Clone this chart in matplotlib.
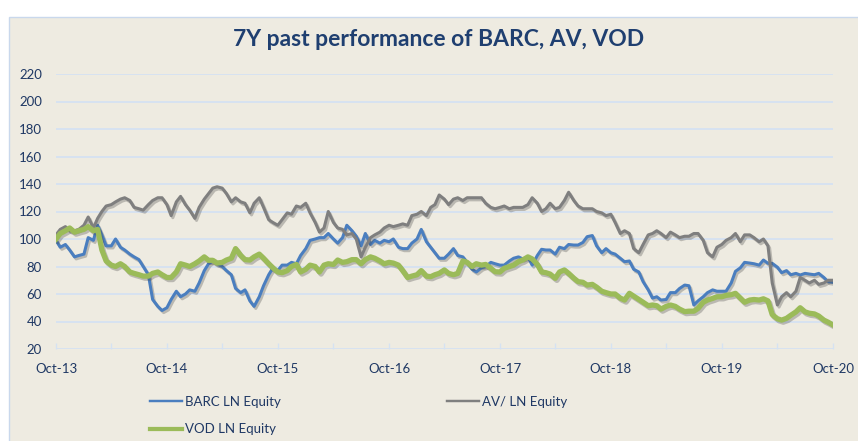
import matplotlib
matplotlib.use('Agg')
import matplotlib.pyplot as plt
import matplotlib.dates as mdates
import matplotlib.patheffects as pe
from matplotlib.patches import Rectangle
import pandas as pd

# semi-monthly readings, Oct-13 .. Oct-20 (index = 100 at start)
dates = pd.date_range('2013-10-01', periods=169, freq='SMS')

barc = [99, 94, 96, 92, 87, 88, 89, 101, 99, 110, 103, 95, 95, 100, 94, 92, 89, 87, 85, 80, 74, 56, 51, 48, 50,
        56, 62, 58, 60, 63, 62, 68, 77, 82, 84, 82, 80, 77, 74, 64, 61, 63, 55, 51, 58, 66, 74, 79, 77,
        81, 81, 83, 82, 88, 93, 99, 100, 101, 101, 104, 100, 97, 101, 110, 106, 102, 95, 104, 96, 99, 97, 99, 98,
        100, 94, 93, 93, 97, 100, 107, 98, 94, 90, 86, 86, 89, 93, 88, 87, 83, 78, 76, 79, 80, 83, 82, 81,
        81, 84, 86, 87, 85.5, 87, 81, 88, 92.5, 92, 92, 89, 94, 93, 96, 95.6, 95.6, 97.5, 101.7, 102.5, 95, 90, 93, 90,
        89, 86, 83.5, 84, 78, 76, 69, 63, 57, 58, 55.6, 56, 61, 61, 64, 66.5, 66, 52, 55, 58, 61, 63, 62, 62,
        62, 68, 76.5, 79, 83, 82.5, 82, 81, 84.7, 82.3, 82.3, 79.5, 75.5, 77, 74, 75, 73.8, 75, 74.5, 74, 75, 72, 69, 68.5]

av = [103, 107, 109, 106, 106, 107, 110, 116, 108, 115, 120, 124, 125, 127, 129, 130, 128, 123, 122, 121, 125, 128, 130, 130, 125,
      117, 127, 131, 125, 121, 115, 123, 129, 133, 137, 138, 137, 133, 127, 130, 127, 126, 119, 126, 130, 123, 114, 112, 110,
      114, 119, 118, 124, 123, 126, 119, 112, 105, 108, 120, 112, 108, 107, 103, 104, 100, 87, 94, 101, 103, 105, 108, 110,
      109, 110, 111, 110, 117, 118, 120, 117, 123, 125, 132, 129, 125, 129, 130, 128, 130, 130, 130, 130, 126, 123, 122, 123,
      124, 122, 123, 123, 123, 125, 130, 126, 120, 122, 126, 122, 123, 128, 134, 128, 124, 122, 122, 122, 120, 119, 117, 118,
      112, 104, 106, 104, 93, 90, 96, 103, 104, 106, 104, 101, 105, 103, 101, 102, 102, 104, 104, 99, 90, 87, 94, 96,
      99, 101, 104, 98, 103, 103, 101, 98, 100, 95, 68, 52, 58, 61, 58, 62, 72, 70, 68, 70, 67, 68, 70, 70]

vod = [100, 104, 106, 108, 105, 106, 107, 109, 106, 107, 92, 84, 81, 80, 82, 80, 76, 75, 74, 73, 73, 75, 76, 74, 72,
       72, 76, 82, 81, 80, 82, 84, 87, 84.5, 84.5, 82.5, 83, 84.7, 86, 93, 88, 85, 84.7, 87, 89, 86, 82, 79, 76,
       75.5, 77, 80, 81.5, 76, 78, 81, 80, 76, 81, 82, 81.5, 84.7, 83, 83.5, 85, 85, 82, 85, 87, 86, 84, 82, 83,
       82.5, 81, 77, 72, 73, 74, 77, 73, 72.6, 74, 75, 77.5, 75, 74, 75, 84, 83, 80, 82, 81, 81.5, 78.7, 76.2, 76,
       78.7, 80, 81, 83.5, 84.7, 87, 85.5, 81.5, 76, 75.5, 74.5, 71.4, 76, 77.5, 75, 71.5, 69, 68.5, 66.5, 67, 65, 62, 61, 60,
       60, 57, 55.6, 60.5, 58.5, 56, 54, 51.5, 52, 51.5, 49, 51, 52, 51, 49, 47.2, 47.5, 47.5, 49.5, 54, 55.6, 56.8, 58, 58,
       59, 59.5, 60.5, 57, 54, 55.6, 56, 55.6, 56.5, 55, 45, 42, 41, 42.3, 44.5, 47, 50, 47, 46, 45.5, 44, 41, 39.5, 37.5]

labels = ['BARC LN Equity', 'AV/ LN Equity', 'VOD LN Equity']
colors = ['#4A7EBF', '#7F7F7F', '#9BBB59']
widths = [2.2, 2.2, 3.8]

bg = '#EEEBE1'
grid_col = '#D5E2F2'
txt_col = '#1F3864'

plt.rcParams['font.family'] = ['Lato', 'DejaVu Sans']

fig = plt.figure(figsize=(8.58, 4.41), dpi=100)
fig.patch.set_facecolor('white')
fig.add_artist(Rectangle((9 / 858, -0.01), 1.0, (441 - 17) / 441 + 0.01,
                         transform=fig.transFigure, facecolor=bg,
                         edgecolor='#C9D8EC', linewidth=1.0, zorder=0))

ax = fig.add_axes([56 / 858, (441 - 349) / 441, (833 - 56) / 858, (349 - 74) / 441])
ax.set_facecolor('none')

for i, (vals, lab, col, lw) in enumerate(zip([barc, av, vod], labels, colors, widths)):
    ax.plot(dates, vals, color=col, lw=lw, label=lab, zorder=3 + i,
            solid_joinstyle='round',
            path_effects=[pe.SimpleLineShadow(offset=(1.2, -1.5), shadow_color='#444444', alpha=0.3),
                          pe.Normal()])

ax.set_ylim(20, 220)
ax.set_yticks(range(20, 221, 20))
ax.set_xlim(pd.Timestamp('2013-10-01'), pd.Timestamp('2020-10-01'))
ax.xaxis.set_major_locator(mdates.MonthLocator(bymonth=10))
ax.xaxis.set_minor_locator(mdates.MonthLocator(bymonth=4))
ax.xaxis.set_major_formatter(mdates.DateFormatter('%b-%y'))

ax.grid(axis='y', color=grid_col, lw=1.3, zorder=1)
ax.set_axisbelow(True)
for s in ax.spines.values():
    s.set_visible(False)

ax.tick_params(axis='y', length=0, pad=10, labelsize=9.5, labelcolor=txt_col)
ax.tick_params(axis='x', which='both', direction='in', length=4, width=1,
               color=grid_col, pad=10, labelsize=9.5, labelcolor=txt_col)
ax.tick_params(axis='x', which='minor', labelbottom=False)

fig.text(439 / 858, 1 - 40 / 441, '7Y past performance of BARC, AV, VOD',
         ha='center', va='center', fontsize=16.5, fontweight='bold', color='#1F3F70')

leg_handles = [plt.Line2D([], [], color=c, lw=w * 0.8) for c, w in zip(colors, widths)]
leg = fig.legend([leg_handles[0], leg_handles[2], leg_handles[1]],
                 [labels[0], labels[2], labels[1]],
                 loc='upper left', bbox_to_anchor=(150 / 858, 1 - 396 / 441),
                 ncol=2, frameon=False, borderpad=0, borderaxespad=0,
                 handlelength=2.4, handletextpad=0.25, columnspacing=12.6,
                 labelspacing=1.15, fontsize=9.5)
for t in leg.get_texts():
    t.set_color(txt_col)

fig.savefig('out.png', dpi=100, facecolor=fig.get_facecolor())
